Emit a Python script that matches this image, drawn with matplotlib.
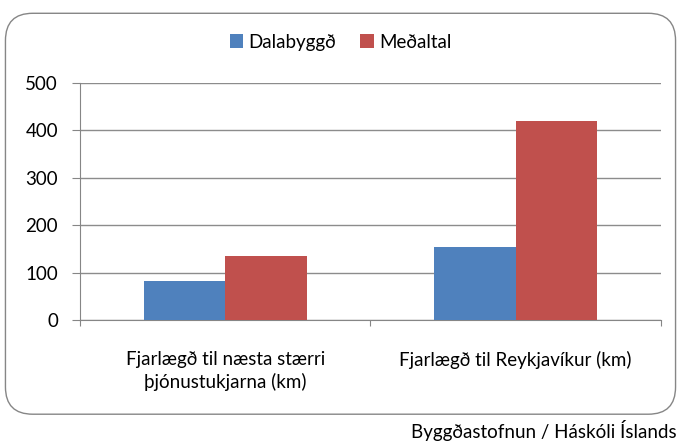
import matplotlib.pyplot as plt
import numpy as np
from matplotlib.patches import FancyBboxPatch

plt.rcParams["font.family"] = ["Lato", "DejaVu Sans"]

categories = ["Fjarlægð til næsta stærri\nþjónustukjarna (km)", "Fjarlægð til Reykjavíkur (km)"]
series_names = ["Dalabyggð", "Meðaltal"]
dalabyggd = [83, 155]
medaltal = [136, 420]
colors = ["#4F81BD", "#C0504D"]

fig = plt.figure(figsize=(6.81, 4.43), dpi=100)

box = FancyBboxPatch((0.008, 0.065), 0.984, 0.905, transform=fig.transFigure,
                     boxstyle="round,pad=0,rounding_size=0.04", mutation_aspect=681 / 443,
                     facecolor="white", edgecolor="#868686", linewidth=1.0, zorder=-1)
fig.patches.append(box)

ax = fig.add_axes([0.1175, 0.2777, 0.853, 0.535])
ax.patch.set_alpha(0)
x = np.arange(len(categories)) + 0.5
w = 0.28
ax.bar(x - w / 2, dalabyggd, w, color=colors[0], label=series_names[0], zorder=3)
ax.bar(x + w / 2, medaltal, w, color=colors[1], label=series_names[1], zorder=3)

ax.set_xlim(0, 2)
ax.set_ylim(0, 500)
ax.set_yticks(range(0, 501, 100))
ax.yaxis.grid(True, color="#8c8c8c", linewidth=1.0, zorder=0)
ax.set_xticks([0, 1, 2])
ax.set_xticklabels([])
ax.set_xticks(x, minor=True)
ax.set_xticklabels(categories, minor=True, fontsize=13.5, linespacing=1.35)
ax.tick_params(axis="x", which="minor", length=0, pad=22)
ax.tick_params(axis="x", which="major", length=4, color="#868686", direction="out")
ax.tick_params(axis="y", length=5.8, pad=10, color="#868686", labelsize=13.5, direction="out")
for side in ["top", "right"]:
    ax.spines[side].set_visible(False)
ax.spines["left"].set_color("#868686")
ax.spines["bottom"].set_color("#868686")

ax.legend(loc="center", bbox_to_anchor=(0.5, 0.905), bbox_transform=fig.transFigure,
          ncol=2, frameon=False, fontsize=13.5, handlelength=0.7, handleheight=0.7,
          columnspacing=1.3, handletextpad=0.3)

fig.text(0.993, 0.005, "Byggðastofnun / Háskóli Íslands", ha="right", va="bottom", fontsize=13.5)

fig.savefig("out.png", dpi=100)
